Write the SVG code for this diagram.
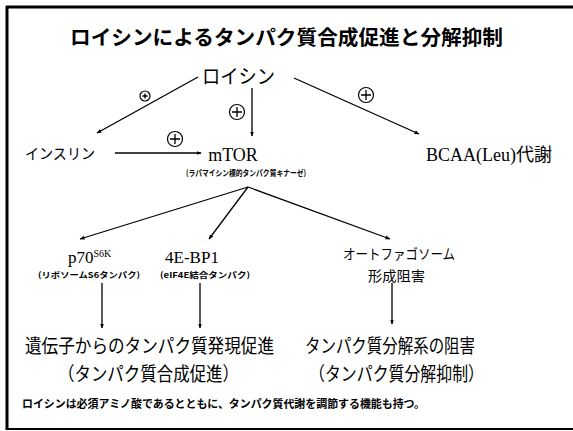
<svg xmlns="http://www.w3.org/2000/svg" width="573" height="431" viewBox="0 0 573 431">
<style>
.jp{font-family:"Noto Sans CJK JP","Liberation Sans",sans-serif;font-weight:bold;fill:#000}
.jn{font-family:"Noto Sans CJK JP","Liberation Sans",sans-serif;font-weight:normal;fill:#000}
.sr{font-family:"Liberation Serif","Noto Sans CJK JP",serif;fill:#000}
.ln{stroke:#000;stroke-width:1.3;fill:none}
.pl{stroke:#000;stroke-width:1.2;fill:#fff}
</style>
<defs>
<marker id="ah" viewBox="0 0 10 10" refX="9" refY="5" markerWidth="5" markerHeight="5" orient="auto" markerUnits="userSpaceOnUse">
<path d="M0,1 L10,5 L0,9 Z" fill="#000"/>
</marker>
</defs>
<rect width="573" height="431" fill="#fff"/>
<g id="frame">
<line x1="6" y1="7" x2="573" y2="7" stroke="#000" stroke-width="3"/>
<line x1="7" y1="6" x2="7" y2="430" stroke="#000" stroke-width="3"/>
<line x1="6" y1="429" x2="573" y2="429" stroke="#000" stroke-width="2"/>
</g>
<g id="title"><text class="jp" x="70" y="45" font-size="20.5" textLength="433" lengthAdjust="spacingAndGlyphs">ロイシンによるタンパク質合成促進と分解抑制</text></g>
<g id="connectors">
<line class="ln" x1="198" y1="77" x2="97" y2="133" marker-end="url(#ah)"/>
<line class="ln" x1="252" y1="88" x2="252" y2="136" marker-end="url(#ah)"/>
<line class="ln" x1="294" y1="78" x2="419" y2="134" marker-end="url(#ah)"/>
<line class="ln" x1="115" y1="153" x2="201" y2="153" marker-end="url(#ah)"/>
<line class="ln" x1="248" y1="187" x2="80" y2="239" marker-end="url(#ah)"/>
<line class="ln" x1="248" y1="187" x2="209" y2="239" marker-end="url(#ah)"/>
<line class="ln" x1="248" y1="187" x2="390" y2="239" marker-end="url(#ah)"/>
<line class="ln" x1="102" y1="283" x2="102" y2="328" marker-end="url(#ah)"/>
<line class="ln" x1="200" y1="283" x2="200" y2="328" marker-end="url(#ah)"/>
<line class="ln" x1="392" y1="283" x2="392" y2="324" marker-end="url(#ah)"/>
</g>
<g id="plus-signs">
<circle class="pl" cx="145" cy="96" r="5"/><path class="ln" d="M142.5,96 h5 M145,93.5 v5"/>
<circle class="pl" cx="237" cy="112" r="7.5"/><path class="ln" d="M232,112 h10 M237,107 v10"/>
<circle class="pl" cx="366" cy="95" r="7.5"/><path class="ln" d="M361,95 h10 M366,90 v10"/>
<circle class="pl" cx="175" cy="139" r="7.5"/><path class="ln" d="M170,139 h10 M175,134 v10"/>
</g>
<g id="leucine"><text class="jn" x="202" y="84" font-size="20" textLength="73" lengthAdjust="spacingAndGlyphs">ロイシン</text></g>
<g id="insulin"><text class="jn" x="25" y="159" font-size="15" textLength="70" lengthAdjust="spacingAndGlyphs">インスリン</text></g>
<g id="mtor">
<text class="sr" x="233" y="161" font-size="18" text-anchor="middle">mTOR</text>
<text class="jp" x="186" y="176" font-size="8" textLength="120" lengthAdjust="spacingAndGlyphs">(ラパマイシン標的タンパク質キナーゼ)</text>
</g>
<g id="bcaa"><text class="sr" x="489" y="161" font-size="18" text-anchor="middle">BCAA(Leu)代謝</text></g>
<g id="p70">
<text class="sr" x="68" y="263" font-size="17">p70<tspan font-size="10" dy="-6">S6K</tspan></text>
<text class="jp" x="38" y="278" font-size="8" textLength="102" lengthAdjust="spacingAndGlyphs">(リボソームS6タンパク)</text>
</g>
<g id="ebp1">
<text class="sr" x="192" y="263" font-size="17" text-anchor="middle">4E-BP1</text>
<text class="jp" x="160" y="278" font-size="8" textLength="90" lengthAdjust="spacingAndGlyphs">(eIF4E結合タンパク)</text>
</g>
<g id="autophagy">
<text class="jn" x="343" y="259" font-size="14" textLength="112" lengthAdjust="spacingAndGlyphs">オートファゴソーム</text>
<text class="jn" x="368" y="281" font-size="14" textLength="57" lengthAdjust="spacingAndGlyphs">形成阻害</text>
</g>
<g id="synthesis">
<text class="jn" x="25" y="353" font-size="19" textLength="249" lengthAdjust="spacingAndGlyphs">遺伝子からのタンパク質発現促進</text>
<text class="jn" x="58" y="381" font-size="19" textLength="181" lengthAdjust="spacingAndGlyphs">（タンパク質合成促進）</text>
</g>
<g id="degradation">
<text class="jn" x="305" y="353" font-size="19" textLength="170" lengthAdjust="spacingAndGlyphs">タンパク質分解系の阻害</text>
<text class="jn" x="309" y="381" font-size="19" textLength="175" lengthAdjust="spacingAndGlyphs">（タンパク質分解抑制）</text>
</g>
<g id="note"><text class="jp" x="22" y="408" font-size="11" textLength="403" lengthAdjust="spacingAndGlyphs">ロイシンは必須アミノ酸であるとともに、タンパク質代謝を調節する機能も持つ。</text></g>
</svg>
